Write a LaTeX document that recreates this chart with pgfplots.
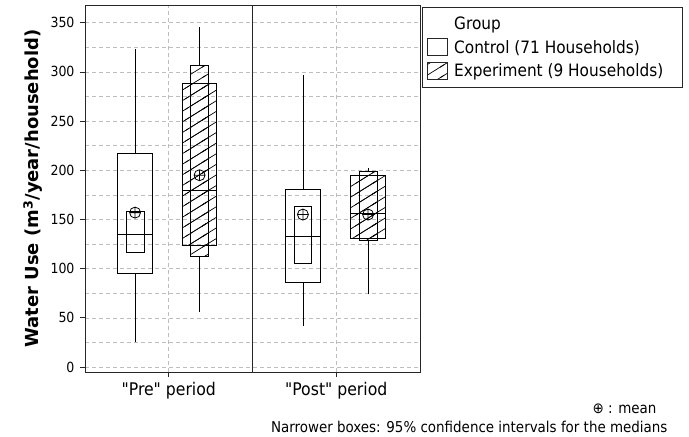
\documentclass[border=0pt]{standalone}
\usepackage{fontspec}
\setmainfont{DejaVu Sans Condensed}
\newfontfamily\labelfont{DejaVu Sans}
\usepackage{pgfplots}
\pgfplotsset{compat=1.18}
\usetikzlibrary{patterns}
\pgfdeclarepatternformonly{hatchthirty}{\pgfqpoint{-2bp}{-1.25bp}}{\pgfqpoint{19bp}{11.85bp}}{\pgfqpoint{17bp}{10.6bp}}{%
  \pgfsetlinewidth{0.7bp}%
  \pgfpathmoveto{\pgfqpoint{-2bp}{-1.247bp}}%
  \pgfpathlineto{\pgfqpoint{19bp}{11.847bp}}%
  \pgfusepath{stroke}}
\tikzset{hatch/.style={pattern=hatchthirty,pattern color=black}}
\definecolor{gridgray}{RGB}{190,190,190}
\begin{document}
\begin{tikzpicture}
\begin{axis}[
  at={(85bp,-372bp)}, anchor=south west, scale only axis,
  width=335bp, height=367bp,
  xmin=0, xmax=2, ymin=-5, ymax=368,
  xtick={0.5,1.5}, xticklabels={\textquotedbl Pre\textquotedbl{} period,\textquotedbl Post\textquotedbl{} period},
  ytick={0,50,...,350}, minor ytick={25,75,...,325},
  tick pos=left,
  tick align=outside, major tick length=5bp, minor tick length=0pt,
  xmajorgrids, ymajorgrids, yminorgrids,
  major grid style={gridgray, dash pattern=on 4bp off 3bp, line width=0.6bp},
  minor grid style={gridgray, dash pattern=on 4bp off 3bp, line width=0.6bp},
  axis line style={black!85, line width=0.8bp},
  tick style={black!85, line width=0.8bp},
  yticklabel style={font=\fontsize{14}{16}\selectfont, xshift=-2bp},
  xticklabel style={font=\fontsize{17.5}{19}\selectfont, yshift=-2bp},
  /pgf/number format/assume math mode=true,
  ylabel={\textbf{Water Use (m\textsuperscript{3}/year/household)}},
  ylabel style={font=\labelfont\fontsize{18}{20}\selectfont, at={(axis description cs:-0.155,0.5)}, anchor=center},
  legend style={at={(1.006,0.995)}, anchor=north west, draw=black!85, line width=0.8bp,
    font=\fontsize{17.1}{19}\selectfont, inner xsep=5bp, inner ysep=7.5bp, row sep=5.3bp, column sep=4bp},
  legend cell align=left,
  every axis plot/.append style={line width=0.8bp},
]
% separator
\addplot[black!85, forget plot] coordinates {(1,-5) (1,368)};
% ---- whiskers
\addplot[black, forget plot] coordinates {(0.299,25) (0.299,95)};
\addplot[black, forget plot] coordinates {(0.299,217) (0.299,323)};
\addplot[black, forget plot] coordinates {(0.684,56) (0.684,113)};
\addplot[black, forget plot] coordinates {(0.684,307) (0.684,346)};
\addplot[black, forget plot] coordinates {(1.301,42) (1.301,86)};
\addplot[black, forget plot] coordinates {(1.301,181) (1.301,297)};
\addplot[black, forget plot] coordinates {(1.69,74) (1.69,129)};
\addplot[black, forget plot] coordinates {(1.69,199) (1.69,202)};
% ---- Pre control: IQR box and CI box
\addplot[black, forget plot] coordinates {(0.196,95) (0.402,95) (0.402,217) (0.196,217)} --cycle;
\addplot[black, forget plot] coordinates {(0.2455,117) (0.3525,117) (0.3525,158) (0.2455,158)} --cycle;
% ---- Pre experiment
\addplot[black, hatch, forget plot] coordinates {(0.581,124) (0.787,124) (0.787,288) (0.581,288)} --cycle;
\addplot[black, hatch, forget plot] coordinates {(0.6305,113) (0.7375,113) (0.7375,307) (0.6305,307)} --cycle;
% ---- Post control
\addplot[black, forget plot] coordinates {(1.198,86) (1.404,86) (1.404,181) (1.198,181)} --cycle;
\addplot[black, forget plot] coordinates {(1.2475,105) (1.3545,105) (1.3545,163) (1.2475,163)} --cycle;
% ---- Post experiment
\addplot[black, hatch, forget plot] coordinates {(1.587,131) (1.793,131) (1.793,195) (1.587,195)} --cycle;
\addplot[black, hatch, forget plot] coordinates {(1.6365,129) (1.7435,129) (1.7435,199) (1.6365,199)} --cycle;
% ---- medians
\addplot[black, forget plot] coordinates {(0.196,135) (0.402,135)};
\addplot[black, forget plot] coordinates {(0.581,180) (0.787,180)};
\addplot[black, forget plot] coordinates {(1.198,133) (1.404,133)};
\addplot[black, forget plot] coordinates {(1.587,156) (1.793,156)};
% ---- means
\addplot[only marks, mark=oplus, mark size=5.5bp, black, forget plot]
  coordinates {(0.299,157) (0.684,195) (1.301,155) (1.69,155)};
% legend
\addlegendimage{legend image code/.code={}}
\addlegendentry{Group}
\addlegendimage{legend image code/.code={\draw[black!85, line width=0.8bp, fill=white] (0bp,-8.5bp) rectangle (20bp,8.5bp);}}
\addlegendentry{Control (71 Households)}
\addlegendimage{legend image code/.code={\draw[black!85, line width=0.8bp, hatch] (0bp,-8.5bp) rectangle (20bp,8.5bp);}}
\addlegendentry{Experiment (9 Households)\rule{12bp}{0pt}}
\end{axis}
\node[anchor=base east, font=\fontsize{15}{17}\selectfont] at (660bp,-413bp) {⊕ : mean};
\node[anchor=base east, font=\fontsize{15}{17}\selectfont] at (671bp,-432bp) {Narrower boxes: 95\% confidence intervals for the medians};
\useasboundingbox (0,0) rectangle (689bp,-437bp);
\end{tikzpicture}
\end{document}
